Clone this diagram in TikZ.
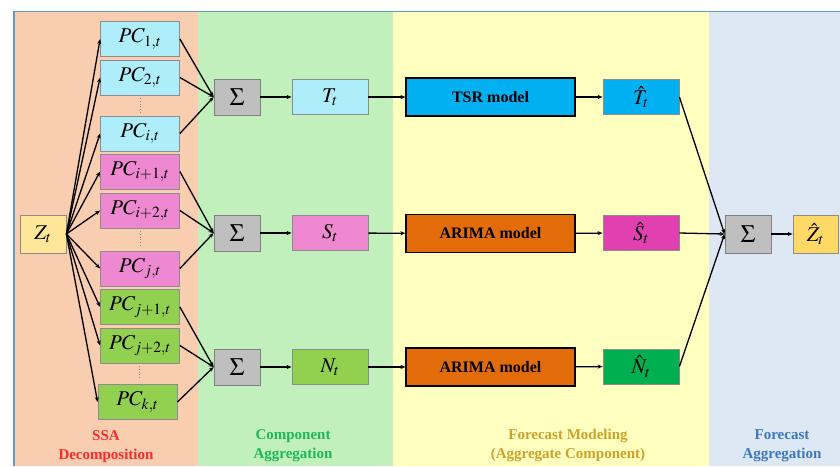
\documentclass[tikz,border=0pt]{standalone}
\usepackage{mathptmx}
\usepackage{fontspec}
\setmainfont{Liberation Serif}
\usetikzlibrary{arrows.meta}
\definecolor{ssabg}{HTML}{F8CDB0}
\definecolor{compbg}{HTML}{C1F0BD}
\definecolor{fmbg}{HTML}{FFFFC0}
\definecolor{fabg}{HTML}{DEE8F5}
\definecolor{frame}{HTML}{5B9BD5}
\definecolor{pcblue}{HTML}{AEEEFA}
\definecolor{pcpink}{HTML}{EE88D0}
\definecolor{pcgreen}{HTML}{92D050}
\definecolor{zfill}{HTML}{FFE699}
\definecolor{sigfill}{HTML}{BFBFBF}
\definecolor{tsrfill}{HTML}{00B0F0}
\definecolor{arimafill}{HTML}{E36C0A}
\definecolor{shatfill}{HTML}{E040B0}
\definecolor{nhatfill}{HTML}{00B050}
\definecolor{zhatfill}{HTML}{FFD966}
\definecolor{ssatxt}{HTML}{FF2A2A}
\definecolor{comptxt}{HTML}{1DB858}
\definecolor{fmtxt}{HTML}{CDA22C}
\definecolor{fatxt}{HTML}{3C78C0}
\tikzset{
  box/.style={draw=black!45, line width=0.8pt, inner sep=0pt, minimum width=79pt, minimum height=35pt,
    font=\fontsize{21}{24}\selectfont},
  sbox/.style={box, minimum width=46pt, minimum height=36pt, font=\fontsize{25}{28}\selectfont},
  model/.style={draw=black, line width=1.2pt, inner sep=0pt, minimum width=169pt, minimum height=38pt,
    font=\fontsize{16}{19}\selectfont\bfseries},
  conn/.style={line width=1.3pt, -{Stealth[length=5pt,width=4pt]}},
  lbl/.style={font=\fontsize{15}{19}\selectfont\bfseries, align=center},
}
\begin{document}
\begin{tikzpicture}[x=1pt,y=-1pt]
\useasboundingbox (0,0) rectangle (840,466);
\fill[white] (0,0) rectangle (840,466);
% panels
\fill[ssabg] (15,12) rectangle (198,466);
\fill[compbg] (198,12) rectangle (393,466);
\fill[fmbg] (393,12) rectangle (709,466);
\fill[fabg] (709,12) rectangle (840,466);
\draw[frame, line width=1.5pt] (14,466) -- (14,11.5) -- (840,11.5);
% input
\node[box, fill=zfill, minimum width=46pt, minimum height=38pt] (z) at (43,234) {$Z_t$};
% PCs
\node[box, fill=pcblue] (pc1) at (140,39) {$PC_{1,t}$};
\node[box, fill=pcblue] (pc2) at (140,77.5) {$PC_{2,t}$};
\node[box, fill=pcblue] (pci) at (140,133.5) {$PC_{i,t}$};
\node[box, fill=pcpink] (pci1) at (140,171.5) {$PC_{i+1,t}$};
\node[box, fill=pcpink] (pci2) at (140,210.5) {$PC_{i+2,t}$};
\node[box, fill=pcpink] (pcj) at (140,268.5) {$PC_{j,t}$};
\node[box, fill=pcgreen] (pcj1) at (140,307) {$PC_{j+1,t}$};
\node[box, fill=pcgreen] (pcj2) at (140,345.5) {$PC_{j+2,t}$};
\node[box, fill=pcgreen] (pck) at (137.5,402) {$PC_{k,t}$};
% dots
\draw[black!45, line width=0.8pt, dotted] (140,98) -- (140,113);
\draw[black!45, line width=0.8pt, dotted] (140,231) -- (140,246);
\draw[black!45, line width=0.8pt, dotted] (139,366) -- (139,380);
% sums
\node[sbox, fill=sigfill, draw=black!50] (s1) at (237,97) {$\Sigma$};
\node[sbox, fill=sigfill, draw=black!50] (s2) at (237,233) {$\Sigma$};
\node[sbox, fill=sigfill, draw=black!50] (s3) at (237,367) {$\Sigma$};
% aggregated components
\node[box, fill=pcblue, minimum width=76pt] (T) at (330,97) {$T_t$};
\node[box, fill=pcpink, minimum width=76pt] (S) at (330,233) {$S_t$};
\node[box, fill=pcgreen, minimum width=76pt] (N) at (330,367) {$N_t$};
% models
\node[model, fill=tsrfill] (m1) at (490.5,97) {TSR model};
\node[model, fill=arimafill] (m2) at (490.5,233.5) {ARIMA model};
\node[model, fill=arimafill] (m3) at (490.5,367) {ARIMA model};
% forecasts
\node[box, fill=tsrfill, minimum width=76pt] (Th) at (641,97) {$\hat{T}_t$};
\node[box, fill=shatfill, minimum width=76pt] (Sh) at (641,233) {$\hat{S}_t$};
\node[box, fill=nhatfill, minimum width=76pt] (Nh) at (641,366.5) {$\hat{N}_t$};
% final
\node[sbox, fill=sigfill, draw=black!50, minimum height=38pt] (s4) at (748,234) {$\Sigma$};
\node[box, fill=zhatfill, minimum width=45pt, minimum height=38pt] (zh) at (815.5,234) {$\hat{Z}_t$};
% connectors: decomposition
\foreach \p in {pc1,pc2,pci,pci1,pci2,pcj,pcj1,pcj2,pck}
  \draw[conn] (z.east) -- (\p.west);
\foreach \p in {pc1,pc2,pci} \draw[conn] (\p.east) -- (s1.west);
\foreach \p in {pci1,pci2,pcj} \draw[conn] (\p.east) -- (s2.west);
\foreach \p in {pcj1,pcj2,pck} \draw[conn] (\p.east) -- (s3.west);
\draw[conn] (s1) -- (T);
\draw[conn] (s2) -- (S);
\draw[conn] (s3) -- (N);
\draw[conn] (T) -- (m1);
\draw[conn] (S) -- (m2);
\draw[conn] (N) -- (m3);
\draw[conn] (m1) -- (Th);
\draw[conn] (m2) -- (Sh);
\draw[conn] (m3) -- (Nh);
\draw[conn] (Th.east) -- (s4.west);
\draw[conn] (Sh.east) -- (s4.west);
\draw[conn] (Nh.east) -- (s4.west);
\draw[conn] (s4) -- (zh);
% labels
\node[lbl, text=ssatxt] (l1) at (106,447) {SSA\\Decomposition};
\node[lbl, text=comptxt] (l2) at (293,445.5) {Component\\Aggregation};
\node[lbl, text=fmtxt] (l3) at (568,445.5) {Forecast Modeling\\(Aggregate Component)};
\node[lbl, text=fatxt] (l4) at (782,445.5) {Forecast\\Aggregation};
\end{tikzpicture}
\end{document}
